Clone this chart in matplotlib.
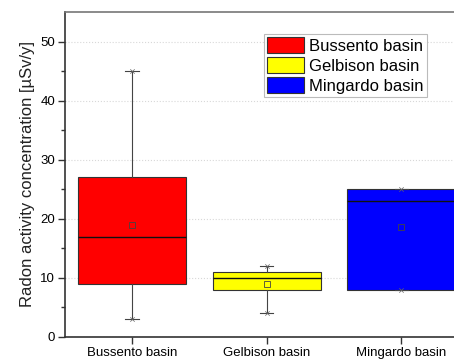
import matplotlib
matplotlib.use('Agg')
import matplotlib.pyplot as plt
from matplotlib.patches import Patch

plt.rcParams['font.family'] = ['Liberation Sans', 'DejaVu Sans']

basins = ['Bussento basin', 'Gelbison basin', 'Mingardo basin']
colors = ['#ff0000', '#ffff00', '#0000ff']
mins = [3, 4, 8]
q1s = [9, 8, 8]
medians = [17, 10, 23]
q3s = [27, 11, 25]
maxs = [45, 12, 25]
means = [19, 9, 18.6]

stats = []
for i in range(len(basins)):
    stats.append({'label': basins[i], 'whislo': mins[i], 'q1': q1s[i], 'med': medians[i],
                  'q3': q3s[i], 'whishi': maxs[i], 'mean': means[i], 'fliers': []})

fig = plt.figure(figsize=(4.54, 3.59), dpi=100)
ax = fig.add_axes([0.143, 0.0613, 0.889, 0.9053])

bp = ax.bxp(stats, positions=[1, 2, 3], widths=0.8, patch_artist=True, showmeans=True,
            capwidths=0.1,
            boxprops=dict(edgecolor='#333333', linewidth=0.8),
            medianprops=dict(color='#111111', linewidth=1.0),
            whiskerprops=dict(color='#444444', linewidth=0.8),
            capprops=dict(color='#444444', linewidth=0.8),
            meanprops=dict(marker='s', markerfacecolor='none', markeredgecolor='#444444',
                           markersize=4, markeredgewidth=0.6),
            zorder=3)
for patch, c in zip(bp['boxes'], colors):
    patch.set_facecolor(c)

# min/max markers
ax.scatter([1, 2, 3], mins, marker='x', s=10, color='#666666', linewidths=0.5, zorder=4)
ax.scatter([1, 2, 3], maxs, marker='x', s=10, color='#666666', linewidths=0.5, zorder=4)

ax.set_xlim(0.5, 3.5)
ax.set_ylim(0, 55)
ax.set_yticks([0, 10, 20, 30, 40, 50])
ax.set_yticks([5, 15, 25, 35, 45], minor=True)
ax.set_xticks([1, 2, 3])
ax.set_xticklabels(basins, fontsize=9.5)
ax.tick_params(axis='y', labelsize=9.5, length=5, width=1, color='#333333', pad=2)
ax.tick_params(axis='y', which='minor', length=3, width=1, color='#333333')
ax.tick_params(axis='x', length=5, width=1, color='#333333', pad=2)
ax.grid(axis='y', linestyle=':', color='#d8d8d8', linewidth=0.8, zorder=0)
ax.set_axisbelow(True)

for s in ['left', 'bottom']:
    ax.spines[s].set_color('#333333')
    ax.spines[s].set_linewidth(1.2)
ax.spines['top'].set_color('#777777')
ax.spines['top'].set_linewidth(1.2)
ax.spines['right'].set_visible(False)

ax.set_ylabel('Radon activity concentration [\u00b5Sv/y]', fontsize=12, labelpad=4,
              color='#222222')

handles = [Patch(facecolor=c, edgecolor='#333333', linewidth=0.8) for c in colors]
leg = ax.legend(handles, basins, loc='upper left', bbox_to_anchor=(0.493, 0.932),
                borderaxespad=0, fontsize=12, frameon=True, fancybox=False,
                edgecolor='#aaaaaa', handlelength=2.2, handleheight=1.1,
                handletextpad=0.3, labelspacing=0.2, borderpad=0.2)
leg.get_frame().set_linewidth(0.8)

fig.savefig('out.png', dpi=100)
